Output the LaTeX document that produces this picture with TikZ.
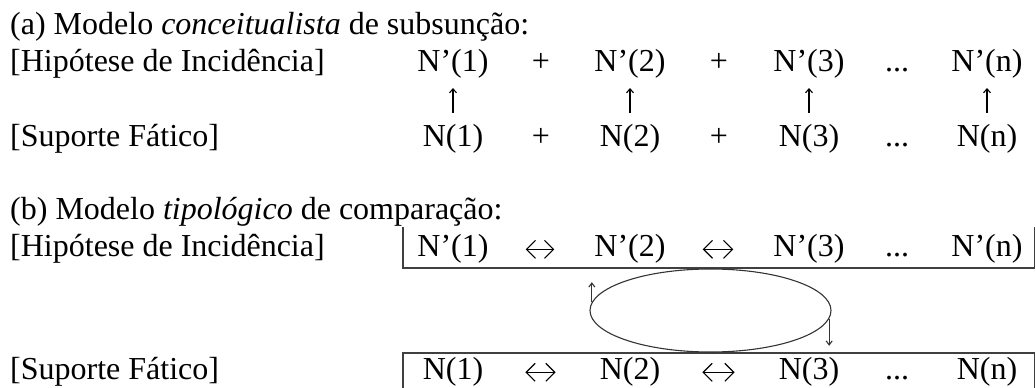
\documentclass[tikz,border=0pt]{standalone}
\usepackage{fontspec}
\setmainfont{Liberation Serif}
\usepackage{tikz}
\usetikzlibrary{arrows.meta,shapes.geometric}

\begin{document}
\begin{tikzpicture}[x=1pt,y=1pt,
  every node/.style={inner sep=0pt,font=\fontsize{32}{38}\selectfont},
  lbl/.style={anchor=base west},
  term/.style={anchor=base},
  frame/.style={black!75,line width=1.6pt},
  uparr/.style={-{Straight Barb[length=4pt,width=7pt]},line width=1.1pt,shorten <=12pt,shorten >=9pt},
  dbl/.style={{Straight Barb[length=9pt,width=18pt]}-{Straight Barb[length=9pt,width=18pt]},line width=1.1pt,shorten <=37pt,shorten >=40pt},
  dbll/.style={dbl,shorten <=42pt,shorten >=44pt},
  tick/.style={-{Straight Barb[length=4pt,width=6pt]},black!80,line width=1.1pt}]
  \useasboundingbox (0,0) rectangle (1036,388);

  % (a) conceitualista
  \node[lbl] (ta) at (10,353) {(a) Modelo \textit{conceitualista} de subsunção:};
  \node[lbl] (hipa) at (10,316) {[Hipótese de Incidência]};
  \node[lbl] (supa) at (10,241) {[Suporte Fático]};
  \foreach \i/\x in {1/453,2/630,3/809,n/987} {
    \node[term] (au\i) at (\x,316) {N’(\i)};
    \node[term] (al\i) at (\x,241) {N(\i)};
    \draw[uparr] (al\i) -- (au\i);
  }
  \foreach \x/\n in {541/1,719/2} {
    \node[term] (apu\n) at (\x,316) {+};
    \node[term] (apl\n) at (\x,241) {+};
  }
  \node[term] (adu) at (897,316) {...};
  \node[term] (adl) at (897,241) {...};

  % (b) tipologico
  \node[lbl] (tb) at (10,168) {(b) Modelo \textit{tipológico} de comparação:};
  \node[lbl] (hipb) at (10,131) {[Hipótese de Incidência]};
  \node[lbl] (supb) at (10,8) {[Suporte Fático]};
  \foreach \i/\x in {1/453,2/630,3/809,n/987} {
    \node[term] (bu\i) at (\x,131) {N’(\i)};
    \node[term] (bl\i) at (\x,8) {N(\i)};
  }
  \node[term] (bdu) at (897,131) {...};
  \node[term] (bdl) at (897,8) {...};
  \draw[dbl] (bu1) -- (bu2);
  \draw[dbl] (bu2) -- (bu3);
  \draw[dbll] (bl1) -- (bl2);
  \draw[dbll] (bl2) -- (bl3);

  \draw[frame] (403,161) -- (403,120) -- (1034.5,120) -- (1034.5,161);
  \draw[frame] (403,0) -- (403,35) -- (1034.5,35) -- (1034.5,0);

  \node[ellipse,draw=black!80,line width=1.1pt,minimum width=241pt,minimum height=83pt] (cyc) at (710.5,77.5) {};
  \draw[tick] (cyc.176) -- ++(0,20);
  \draw[tick] (cyc.-4) -- ++(0,-27);
\end{tikzpicture}
\end{document}
